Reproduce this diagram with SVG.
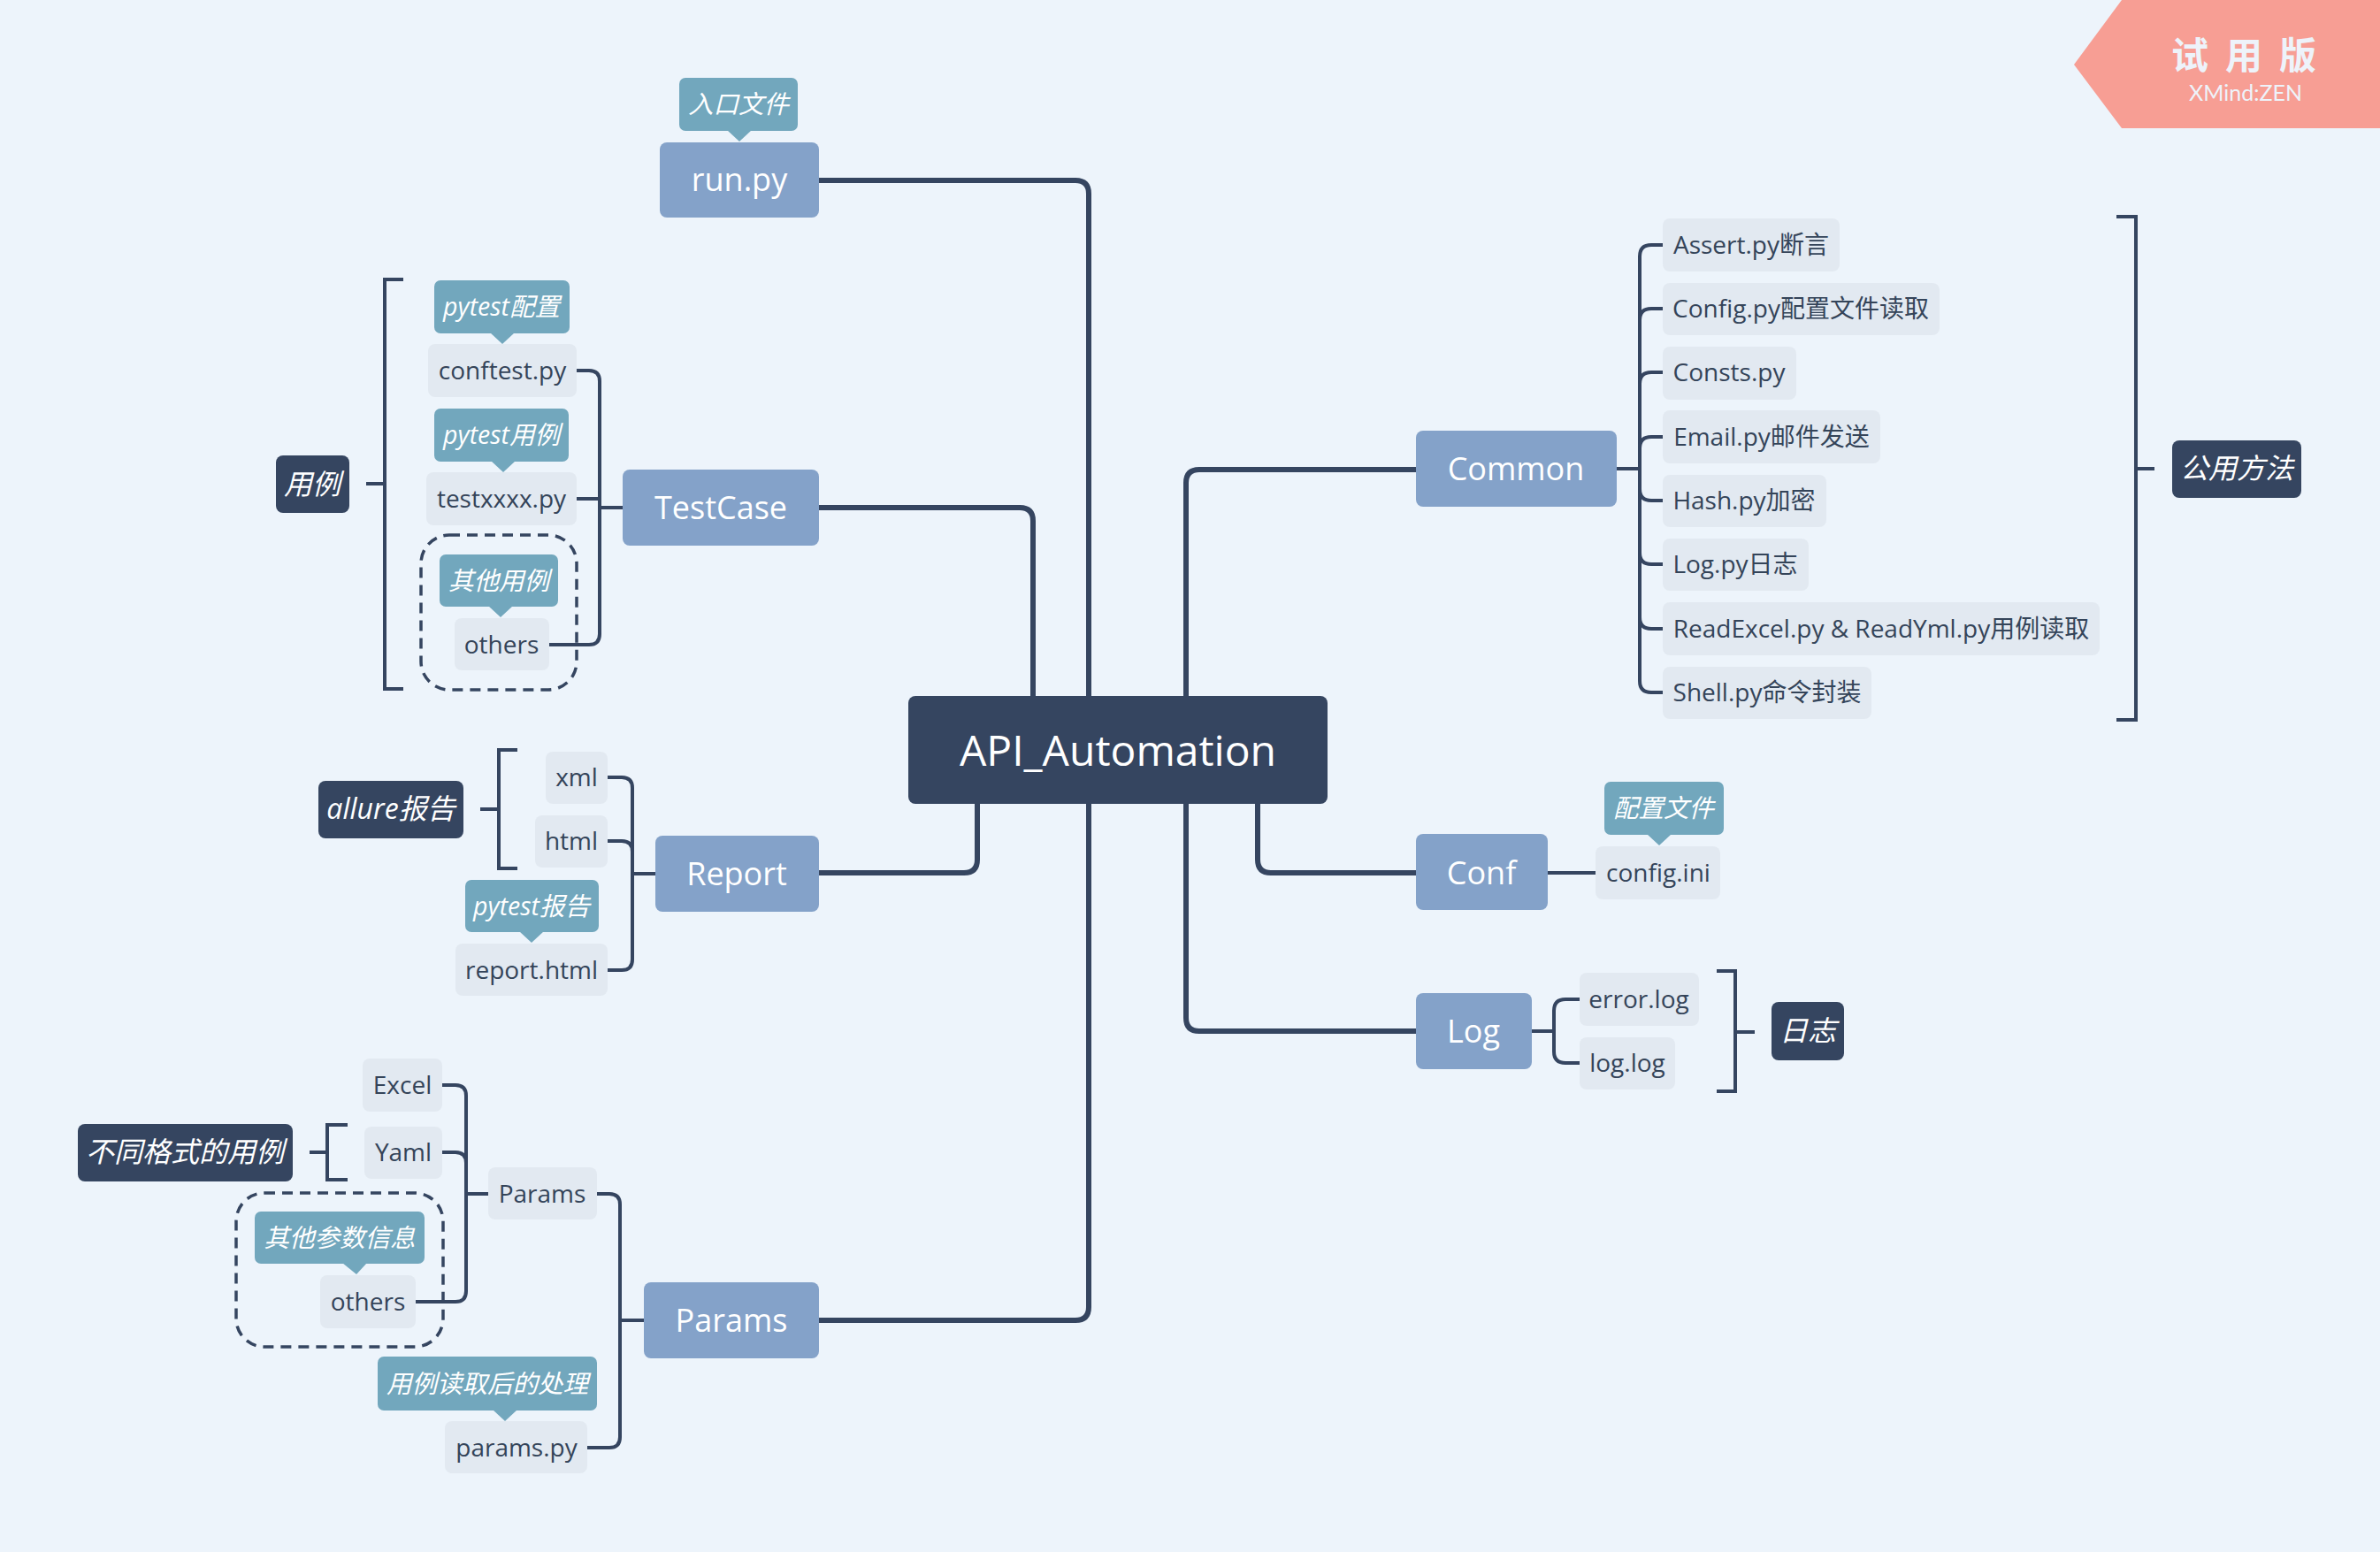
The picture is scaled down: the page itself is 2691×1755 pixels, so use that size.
<svg xmlns="http://www.w3.org/2000/svg" width="2691" height="1755" viewBox="0 0 2691 1755">
<style>
text{font-family:"Open Sans","Noto Sans CJK SC",sans-serif;text-anchor:middle}
.root{fill:#354560}
.main{fill:#84A2C9}
.sub{fill:#E2E9F1}
.call{fill:#72A7BD}
.lab{fill:#354560}
.tr{font-size:48px;fill:#fff}
.tm{font-size:36px;fill:#fff}
.ts{font-size:28px;fill:#344459}
.tc{font-size:28.5px;fill:#fff;font-style:italic}
.tl{font-size:32px;fill:#fff;font-style:italic}
.wm{font-size:42px;font-weight:bold;fill:#EEF3FA;font-family:"Noto Sans CJK SC",sans-serif}
.conn{fill:none;stroke:#354560;stroke-width:6;stroke-linecap:butt}
.br{fill:none;stroke:#354560;stroke-width:4}
.bk{fill:none;stroke:#354560;stroke-width:4}
.dash{fill:none;stroke:#354560;stroke-width:3.5;stroke-dasharray:12 8}
</style>
<rect x="0" y="0" width="2691" height="1755" fill="#EDF4FB"/>

<g id="watermark">
<polygon points="2399,0 2691,0 2691,145 2399,145 2345,73" fill="#F79E94"/>
<text class="wm" x="2476" y="78">试</text>
<text class="wm" x="2537" y="78">用</text>
<text class="wm" x="2598" y="78">版</text>
<text x="2539" y="114" style="font-size:25px;fill:#EEF3FA;font-family:Lato,'Open Sans',sans-serif">XMind:ZEN</text>
</g>

<g id="connectors">
<path class="conn" d="M926 204 H1216 Q1231 204 1231 219 V787"/>
<path class="conn" d="M926 574 H1153 Q1168 574 1168 589 V787"/>
<path class="conn" d="M1601 531 H1356 Q1341 531 1341 546 V787"/>
<path class="conn" d="M926 987 H1090 Q1105 987 1105 972 V909"/>
<path class="conn" d="M926 1493 H1216 Q1231 1493 1231 1478 V909"/>
<path class="conn" d="M1601 987 H1437 Q1422 987 1422 972 V909"/>
<path class="conn" d="M1601 1166 H1356 Q1341 1166 1341 1151 V909"/>

<path class="br" d="M652 419 H666 Q678 419 678 431 V717 Q678 729 666 729 H621"/>
<path class="br" d="M652 564 H678"/>
<path class="br" d="M678 574 H704"/>

<path class="br" d="M687 879 H703 Q715 879 715 891 V1085 Q715 1097 703 1097 H687"/>
<path class="br" d="M687 951 H703 Q715 951 715 963"/>
<path class="br" d="M715 988 H741"/>

<path class="br" d="M675 1350 H689 Q701 1350 701 1362 V1625 Q701 1637 689 1637 H664"/>
<path class="br" d="M701 1493 H728"/>

<path class="br" d="M500 1227 H515 Q527 1227 527 1239 V1460 Q527 1472 515 1472 H470"/>
<path class="br" d="M500 1303 H515 Q527 1303 527 1315"/>
<path class="br" d="M527 1350 H552"/>

<path class="br" d="M1828 530 H1854"/>
<path class="br" d="M1880 277 H1867 Q1854 277 1854 290 V770 Q1854 783 1867 783 H1880"/>
<path class="br" d="M1880 349 H1867 Q1854 349 1854 362"/>
<path class="br" d="M1880 421 H1867 Q1854 421 1854 434"/>
<path class="br" d="M1880 494 H1867 Q1854 494 1854 507"/>
<path class="br" d="M1880 566 H1867 Q1854 566 1854 553"/>
<path class="br" d="M1880 638 H1867 Q1854 638 1854 625"/>
<path class="br" d="M1880 711 H1867 Q1854 711 1854 698"/>

<path class="br" d="M1750 987 H1804"/>

<path class="br" d="M1732 1166 H1757"/>
<path class="br" d="M1786 1130 H1770 Q1757 1130 1757 1143 V1189 Q1757 1202 1770 1202 H1786"/>
</g>

<g id="brackets">
<path class="bk" d="M456 316 H435 V779 H456 M414 547 H435"/>
<path class="bk" d="M585 848 H564 V982 H585 M543 915 H564"/>
<path class="bk" d="M393 1272 H370 V1334 H393 M350 1303 H370"/>
<path class="bk" d="M2393 245 H2415 V814 H2393 M2415 530 H2436"/>
<path class="bk" d="M1941 1098 H1962 V1234 H1941 M1962 1167 H1984"/>
</g>

<g id="boundaries">
<rect class="dash" x="476" y="605" width="176" height="175" rx="32"/>
<rect class="dash" x="267" y="1349" width="234" height="174" rx="32"/>
</g>

<g id="root">
<rect class="root" x="1027" y="787" width="474" height="122" rx="8"/>
<text class="tr" x="1264" y="866">API_Automation</text>
</g>

<g id="run-py">
<rect class="main" x="746" y="161" width="180" height="85" rx="8"/>
<text class="tm" x="836" y="216">run.py</text>
</g>
<g id="testcase">
<rect class="main" x="704" y="531" width="222" height="86" rx="8"/>
<text class="tm" x="815" y="587">TestCase</text>
</g>
<g id="report">
<rect class="main" x="741" y="945" width="185" height="86" rx="8"/>
<text class="tm" x="833" y="1001">Report</text>
</g>
<g id="params">
<rect class="main" x="728" y="1450" width="198" height="86" rx="8"/>
<text class="tm" x="827" y="1506">Params</text>
</g>
<g id="common">
<rect class="main" x="1601" y="487" width="227" height="86" rx="8"/>
<text class="tm" x="1714" y="543">Common</text>
</g>
<g id="conf">
<rect class="main" x="1601" y="943" width="149" height="86" rx="8"/>
<text class="tm" x="1675" y="1000">Conf</text>
</g>
<g id="log">
<rect class="main" x="1601" y="1123" width="131" height="86" rx="8"/>
<text class="tm" x="1666" y="1179">Log</text>
</g>

<g id="conftest">
<rect class="sub" x="484" y="389" width="168" height="60" rx="8"/>
<text class="ts" x="568" y="429">conftest.py</text>
</g>
<g id="testxxxx">
<rect class="sub" x="482" y="534" width="170" height="60" rx="8"/>
<text class="ts" x="567" y="574">testxxxx.py</text>
</g>
<g id="others-testcase">
<rect class="sub" x="514" y="699" width="107" height="59" rx="8"/>
<text class="ts" x="567" y="739">others</text>
</g>
<g id="xml">
<rect class="sub" x="617" y="850" width="70" height="59" rx="8"/>
<text class="ts" x="652" y="889">xml</text>
</g>
<g id="html">
<rect class="sub" x="605" y="922" width="82" height="59" rx="8"/>
<text class="ts" x="646" y="961">html</text>
</g>
<g id="report-html">
<rect class="sub" x="515" y="1067" width="172" height="59" rx="8"/>
<text class="ts" x="601" y="1107">report.html</text>
</g>
<g id="excel">
<rect class="sub" x="410" y="1197" width="90" height="60" rx="8"/>
<text class="ts" x="455" y="1237">Excel</text>
</g>
<g id="yaml">
<rect class="sub" x="412" y="1274" width="88" height="59" rx="8"/>
<text class="ts" x="456" y="1313">Yaml</text>
</g>
<g id="params-sub">
<rect class="sub" x="552" y="1320" width="123" height="59" rx="8"/>
<text class="ts" x="613" y="1360">Params</text>
</g>
<g id="others-params">
<rect class="sub" x="362" y="1442" width="108" height="60" rx="8"/>
<text class="ts" x="416" y="1482">others</text>
</g>
<g id="params-py">
<rect class="sub" x="503" y="1607" width="161" height="59" rx="8"/>
<text class="ts" x="584" y="1647">params.py</text>
</g>

<g id="assert">
<rect class="sub" x="1880" y="247" width="200" height="60" rx="8"/>
<text class="ts" x="1980" y="287">Assert.py断言</text>
</g>
<g id="config-py">
<rect class="sub" x="1880" y="320" width="313" height="59" rx="8"/>
<text class="ts" x="2036" y="359">Config.py配置文件读取</text>
</g>
<g id="consts">
<rect class="sub" x="1880" y="392" width="151" height="60" rx="8"/>
<text class="ts" x="1955" y="431">Consts.py</text>
</g>
<g id="email">
<rect class="sub" x="1880" y="464" width="246" height="60" rx="8"/>
<text class="ts" x="2003" y="504">Email.py邮件发送</text>
</g>
<g id="hash">
<rect class="sub" x="1880" y="537" width="185" height="59" rx="8"/>
<text class="ts" x="1972" y="576">Hash.py加密</text>
</g>
<g id="log-py">
<rect class="sub" x="1880" y="609" width="165" height="59" rx="8"/>
<text class="ts" x="1962" y="648">Log.py日志</text>
</g>
<g id="readexcel">
<rect class="sub" x="1880" y="681" width="494" height="60" rx="8"/>
<text class="ts" x="2127" y="721">ReadExcel.py &amp; ReadYml.py用例读取</text>
</g>
<g id="shell">
<rect class="sub" x="1880" y="754" width="236" height="59" rx="8"/>
<text class="ts" x="1998" y="793">Shell.py命令封装</text>
</g>
<g id="config-ini">
<rect class="sub" x="1804" y="957" width="141" height="60" rx="8"/>
<text class="ts" x="1875" y="997">config.ini</text>
</g>
<g id="error-log">
<rect class="sub" x="1786" y="1100" width="135" height="60" rx="8"/>
<text class="ts" x="1853" y="1140">error.log</text>
</g>
<g id="log-log">
<rect class="sub" x="1786" y="1173" width="108" height="59" rx="8"/>
<text class="ts" x="1840" y="1212">log.log</text>
</g>

<g id="callout-entry">
<rect class="call" x="768" y="88" width="134" height="60" rx="7"/>
<polygon class="call" points="822,147 850,147 836,160"/>
<text class="tc" x="835" y="128">入口文件</text>
</g>
<g id="callout-pytest-config">
<rect class="call" x="491" y="317" width="153" height="60" rx="7"/>
<polygon class="call" points="554,376 582,376 568,389"/>
<text class="tc" x="567" y="357">pytest配置</text>
</g>
<g id="callout-pytest-case">
<rect class="call" x="491" y="462" width="152" height="60" rx="7"/>
<polygon class="call" points="555,521 583,521 569,534"/>
<text class="tc" x="567" y="502">pytest用例</text>
</g>
<g id="callout-other-case">
<rect class="call" x="497" y="627" width="134" height="59" rx="7"/>
<polygon class="call" points="552,685 580,685 566,698"/>
<text class="tc" x="564" y="667">其他用例</text>
</g>
<g id="callout-pytest-report">
<rect class="call" x="526" y="995" width="151" height="59" rx="7"/>
<polygon class="call" points="587,1053 615,1053 601,1066"/>
<text class="tc" x="601" y="1035">pytest报告</text>
</g>
<g id="callout-other-params">
<rect class="call" x="288" y="1370" width="192" height="59" rx="7"/>
<polygon class="call" points="387,1428 415,1428 403,1441"/>
<text class="tc" x="384" y="1410">其他参数信息</text>
</g>
<g id="callout-process">
<rect class="call" x="427" y="1534" width="248" height="61" rx="7"/>
<polygon class="call" points="557,1594 585,1594 571,1607"/>
<text class="tc" x="551" y="1575">用例读取后的处理</text>
</g>
<g id="callout-config-file">
<rect class="call" x="1814" y="884" width="135" height="60" rx="7"/>
<polygon class="call" points="1862,943 1890,943 1876,956"/>
<text class="tc" x="1881" y="924">配置文件</text>
</g>

<g id="label-case">
<rect class="lab" x="312" y="515" width="83" height="65" rx="8"/>
<text class="tl" x="353" y="559">用例</text>
</g>
<g id="label-allure">
<rect class="lab" x="360" y="883" width="164" height="65" rx="8"/>
<text class="tl" x="442" y="926">allure报告</text>
</g>
<g id="label-formats">
<rect class="lab" x="88" y="1271" width="243" height="65" rx="8"/>
<text class="tl" x="209" y="1314">不同格式的用例</text>
</g>
<g id="label-common">
<rect class="lab" x="2456" y="498" width="146" height="65" rx="8"/>
<text class="tl" x="2529" y="541">公用方法</text>
</g>
<g id="label-log">
<rect class="lab" x="2003" y="1133" width="82" height="66" rx="8"/>
<text class="tl" x="2044" y="1177">日志</text>
</g>
</svg>
